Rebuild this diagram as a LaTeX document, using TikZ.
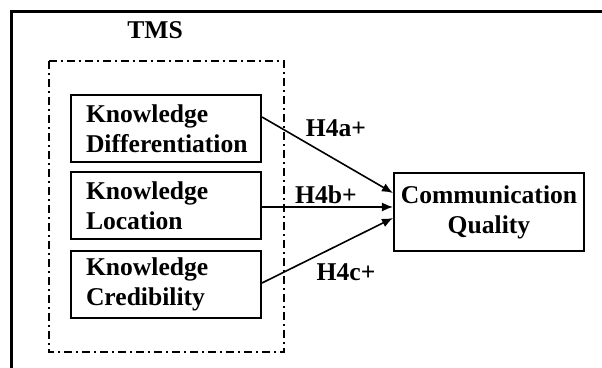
\documentclass[tikz,border=0pt]{standalone}
\usepackage{fontspec}
\setmainfont{Liberation Serif}
\usetikzlibrary{arrows.meta,calc}
\begin{document}
\begin{tikzpicture}[x=0.5pt,y=-0.5pt,
  every node/.style={font=\bfseries\fontsize{12.8pt}{15pt}\selectfont},
  factor/.style={draw, line width=1pt, text width=80pt, inner xsep=7.5pt,
    inner ysep=0pt, minimum height=33.5pt, align=left},
  outcome/.style={draw, line width=1pt, text width=89pt, inner xsep=3pt,
    inner ysep=0pt, minimum height=39pt, align=center},
  path/.style={line width=0.8pt, -{Latex[length=5.5pt,width=4.5pt]}},
  hlabel/.style={inner sep=0pt}
]
\useasboundingbox (0,0) rectangle (602,368);

% outer frame (left and top edges)
\draw[line width=1.5pt] (11.5,368) -- (11.5,12) -- (602,12);

% TMS group
\node[hlabel] (tms) at (155,30) {TMS};
\draw[line width=0.8pt, dash pattern=on 4pt off 2pt on 1pt off 2pt]
  (49,61) rectangle (284,352);

\node[factor] (kd) at (166,128.5) {Knowledge\\Differentiation};
\node[factor] (kl) at (166,206) {Knowledge\\Location};
\node[factor] (kc) at (166,284.5) {Knowledge\\Credibility};

\node[outcome] (cq) at (489,212) {Communication\\Quality};

% hypothesised paths
\draw[path] ([yshift=5.75pt]kd.east) -- ([yshift=9.5pt]cq.west);
\draw[path] ([yshift=-0.5pt]kl.east) -- ([yshift=2.5pt]cq.west);
\draw[path] ([yshift=0.75pt]kc.east) -- ([yshift=-3pt]cq.west);

\node[hlabel] (h4a) at (336,128) {H4a+};
\node[hlabel] (h4b) at (326,195) {H4b+};
\node[hlabel] (h4c) at (346,272) {H4c+};
\end{tikzpicture}
\end{document}
